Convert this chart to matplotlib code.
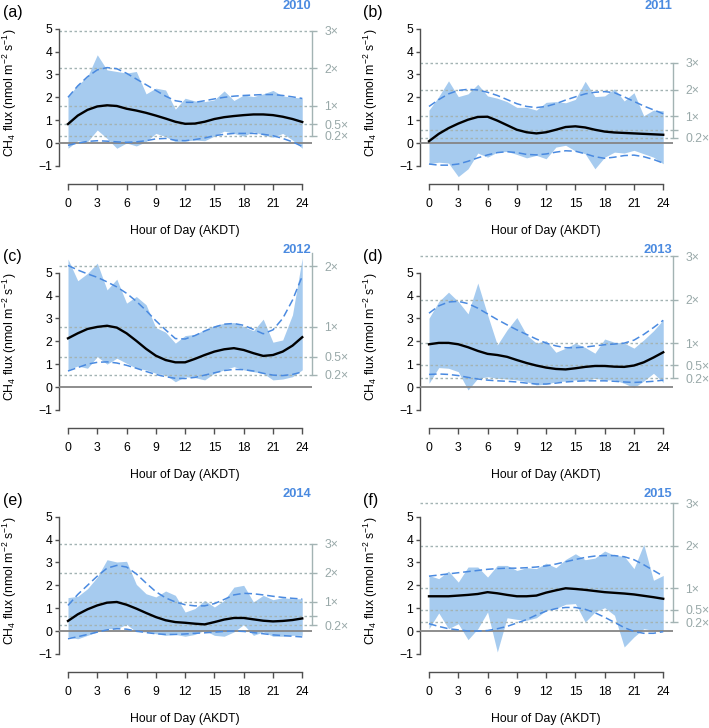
import numpy as np
import matplotlib.pyplot as plt

plt.rcParams['font.family'] = ['Liberation Sans', 'DejaVu Sans']
plt.rcParams['mathtext.fontset'] = 'custom'
plt.rcParams['mathtext.rm'] = 'Liberation Sans'
plt.rcParams['mathtext.it'] = 'Liberation Sans:italic'

hours = np.arange(25)
years = [2010, 2011, 2012, 2013, 2014, 2015]
panel_tags = ['(a)', '(b)', '(c)', '(d)', '(e)', '(f)']
ref_flux = [1.64, 1.17, 2.64, 1.91, 1.27, 1.86]
multipliers = [0.2, 0.5, 1, 2, 3]
mult_labels = ['0.2\u00d7', '0.5\u00d7', '1\u00d7', '2\u00d7', '3\u00d7']
xticks = [0, 3, 6, 9, 12, 15, 18, 21, 24]
yticks = [-1, 0, 1, 2, 3, 4, 5]

hi_2010 = [2.03, 2.54, 2.9, 3.86, 3.2, 3.13, 3.06, 3.13, 2.15, 2.4, 2.32, 1.48, 1.96, 1.84, 1.81, 1.89, 2.28, 1.86, 2.1, 2.03, 2.15, 2.3, 2.06, 2.0, 1.97]
lo_2010 = [-0.23, 0.1, 0.06, 0.57, 0.2, -0.23, 0.0, -0.13, 0.06, 0.42, 0.28, 0.06, 0.09, 0.13, 0.1, 0.3, 0.52, 0.42, 0.3, 0.5, 0.35, 0.25, 0.42, 0.13, -0.23]
mean_2010 = [0.83, 1.2, 1.45, 1.6, 1.65, 1.62, 1.5, 1.42, 1.32, 1.2, 1.07, 0.93, 0.84, 0.85, 0.93, 1.05, 1.13, 1.18, 1.22, 1.25, 1.25, 1.22, 1.15, 1.05, 0.92]
fit_hi_2010 = [2.0, 2.5, 2.9, 3.2, 3.3, 3.25, 3.05, 2.8, 2.55, 2.3, 2.05, 1.85, 1.78, 1.78, 1.85, 1.93, 2.0, 2.05, 2.08, 2.1, 2.12, 2.12, 2.08, 2.02, 1.95]
fit_lo_2010 = [-0.1, 0.0, 0.07, 0.1, 0.08, 0.05, 0.03, 0.05, 0.1, 0.18, 0.2, 0.12, 0.1, 0.15, 0.22, 0.32, 0.38, 0.42, 0.42, 0.42, 0.38, 0.32, 0.2, 0.05, -0.15]

hi_2011 = [1.44, 2.03, 2.72, 2.03, 2.15, 2.57, 2.06, 1.96, 1.81, 1.56, 1.56, 1.44, 1.78, 1.81, 1.76, 1.91, 2.7, 2.03, 2.06, 2.37, 1.84, 2.2, 1.19, 1.44, 1.41]
lo_2011 = [-0.91, -0.84, -0.88, -1.47, -1.13, -0.44, -0.62, -0.4, -0.37, -0.5, -0.65, -0.54, -0.69, -0.18, -0.1, -0.35, -0.47, -1.13, -0.62, -0.4, -0.44, -0.32, -0.47, -0.62, -0.91]
mean_2011 = [0.08, 0.4, 0.65, 0.85, 1.02, 1.14, 1.15, 0.98, 0.78, 0.58, 0.47, 0.42, 0.47, 0.58, 0.7, 0.73, 0.68, 0.58, 0.5, 0.46, 0.44, 0.42, 0.4, 0.38, 0.36]
fit_hi_2011 = [1.6, 1.9, 2.15, 2.3, 2.35, 2.32, 2.22, 2.08, 1.9, 1.72, 1.6, 1.55, 1.6, 1.72, 1.88, 2.02, 2.15, 2.22, 2.25, 2.2, 2.02, 1.82, 1.62, 1.45, 1.28]
fit_lo_2011 = [-0.92, -0.97, -0.97, -0.92, -0.8, -0.65, -0.52, -0.42, -0.38, -0.42, -0.5, -0.52, -0.48, -0.4, -0.34, -0.36, -0.47, -0.6, -0.67, -0.62, -0.55, -0.53, -0.6, -0.72, -0.88]

hi_2012 = [5.6, 4.65, 4.97, 5.42, 4.25, 4.72, 3.67, 3.96, 3.6, 2.6, 2.4, 1.92, 2.25, 2.3, 2.5, 2.69, 2.79, 2.82, 2.65, 2.46, 2.97, 1.96, 2.06, 3.16, 5.65]
lo_2012 = [0.75, 0.92, 0.82, 1.33, 1.0, 1.26, 1.04, 0.82, 0.75, 0.6, 0.53, 0.23, 0.45, 0.41, 0.31, 0.6, 0.75, 0.89, 0.75, 0.67, 0.6, 0.31, 0.35, 0.45, 0.75]
mean_2012 = [2.13, 2.35, 2.54, 2.63, 2.68, 2.6, 2.35, 2.02, 1.67, 1.37, 1.18, 1.08, 1.08, 1.23, 1.4, 1.55, 1.65, 1.7, 1.62, 1.48, 1.36, 1.4, 1.55, 1.81, 2.18]
fit_hi_2012 = [5.32, 5.12, 4.95, 4.8, 4.6, 4.38, 4.1, 3.75, 3.35, 2.9, 2.5, 2.12, 2.1, 2.25, 2.45, 2.62, 2.75, 2.78, 2.7, 2.52, 2.33, 2.5, 3.0, 3.8, 4.85]
fit_lo_2012 = [0.7, 0.85, 1.0, 1.08, 1.1, 1.05, 0.95, 0.82, 0.68, 0.55, 0.45, 0.38, 0.37, 0.42, 0.52, 0.62, 0.72, 0.77, 0.76, 0.7, 0.6, 0.52, 0.5, 0.55, 0.66]

hi_2013 = [3.01, 3.74, 4.15, 3.74, 3.2, 4.55, 3.16, 1.84, 2.5, 3.04, 2.28, 1.92, 2.03, 1.52, 1.7, 1.92, 1.73, 1.48, 2.1, 1.96, 1.92, 1.7, 2.06, 2.46, 2.94]
lo_2013 = [0.16, 0.85, 0.82, 0.67, -0.13, 0.38, 0.45, 0.38, 0.35, 0.31, 0.23, 0.09, 0.12, 0.23, 0.26, 0.31, 0.26, 0.38, 0.31, 0.31, 0.16, -0.03, 0.26, 0.6, 0.2]
mean_2013 = [1.87, 1.93, 1.93, 1.87, 1.74, 1.58, 1.45, 1.4, 1.32, 1.18, 1.05, 0.94, 0.85, 0.79, 0.77, 0.82, 0.88, 0.92, 0.92, 0.89, 0.88, 0.94, 1.08, 1.29, 1.52]
fit_hi_2013 = [3.23, 3.55, 3.72, 3.75, 3.65, 3.45, 3.2, 2.95, 2.72, 2.5, 2.3, 2.1, 1.92, 1.8, 1.72, 1.72, 1.75, 1.8, 1.85, 1.88, 1.92, 2.05, 2.3, 2.6, 2.92]
fit_lo_2013 = [0.55, 0.57, 0.55, 0.5, 0.42, 0.35, 0.3, 0.27, 0.25, 0.22, 0.17, 0.13, 0.13, 0.17, 0.22, 0.25, 0.27, 0.27, 0.27, 0.25, 0.22, 0.2, 0.22, 0.25, 0.3]

hi_2014 = [1.46, 1.52, 1.85, 2.36, 3.12, 3.02, 3.05, 2.04, 1.63, 1.49, 1.75, 1.56, 0.83, 0.98, 1.34, 1.05, 1.34, 1.92, 2.0, 1.27, 1.56, 1.37, 1.46, 1.41, 1.41]
lo_2014 = [-0.26, -0.34, -0.19, -0.04, 0.1, 0.1, 0.29, -0.04, -0.04, -0.12, -0.19, -0.15, -0.23, -0.15, 0.03, -0.19, -0.23, -0.04, 0.28, -0.19, -0.04, -0.23, -0.23, -0.19, -0.19]
mean_2014 = [0.44, 0.73, 0.95, 1.12, 1.24, 1.27, 1.15, 0.98, 0.79, 0.61, 0.47, 0.39, 0.36, 0.32, 0.29, 0.39, 0.5, 0.57, 0.57, 0.51, 0.45, 0.42, 0.44, 0.48, 0.55]
fit_hi_2014 = [1.12, 1.6, 2.0, 2.4, 2.75, 2.87, 2.8, 2.5, 2.1, 1.72, 1.45, 1.27, 1.15, 1.1, 1.1, 1.2, 1.38, 1.58, 1.65, 1.63, 1.58, 1.52, 1.47, 1.43, 1.4]
fit_lo_2014 = [-0.34, -0.25, -0.15, -0.05, 0.05, 0.1, 0.08, 0.0, -0.07, -0.12, -0.15, -0.15, -0.13, -0.1, -0.08, -0.05, -0.02, 0.0, -0.02, -0.07, -0.12, -0.17, -0.2, -0.23, -0.26]

hi_2015 = [2.43, 2.29, 2.62, 2.14, 2.8, 2.8, 2.36, 2.87, 2.87, 2.65, 2.77, 2.73, 2.97, 2.77, 3.13, 3.38, 3.12, 3.19, 3.5, 3.31, 3.27, 2.73, 3.79, 2.22, 2.43]
lo_2015 = [0.1, 0.79, 0.1, 0.32, -0.38, 0.1, 0.83, -0.92, 0.58, 0.51, 0.47, 0.58, 0.9, 0.98, 1.17, 1.2, 0.39, 0.83, 1.02, 0.69, -0.7, -0.26, 0.1, 0.03, 0.0]
mean_2015 = [1.52, 1.52, 1.52, 1.55, 1.58, 1.62, 1.7, 1.65, 1.58, 1.52, 1.52, 1.55, 1.68, 1.78, 1.87, 1.84, 1.8, 1.75, 1.7, 1.67, 1.64, 1.6, 1.54, 1.48, 1.41]
fit_hi_2015 = [2.4, 2.45, 2.5, 2.55, 2.6, 2.65, 2.7, 2.73, 2.75, 2.75, 2.77, 2.8, 2.85, 2.93, 3.03, 3.13, 3.22, 3.28, 3.3, 3.3, 3.25, 3.12, 2.9, 2.65, 2.4]
fit_lo_2015 = [0.32, 0.2, 0.1, 0.05, 0.0, 0.0, 0.02, 0.1, 0.2, 0.35, 0.5, 0.7, 0.87, 0.98, 1.03, 1.03, 0.95, 0.8, 0.6, 0.38, 0.15, -0.02, -0.1, -0.1, -0.03]

series = {
    2010: (hi_2010, lo_2010, mean_2010, fit_hi_2010, fit_lo_2010),
    2011: (hi_2011, lo_2011, mean_2011, fit_hi_2011, fit_lo_2011),
    2012: (hi_2012, lo_2012, mean_2012, fit_hi_2012, fit_lo_2012),
    2013: (hi_2013, lo_2013, mean_2013, fit_hi_2013, fit_lo_2013),
    2014: (hi_2014, lo_2014, mean_2014, fit_hi_2014, fit_lo_2014),
    2015: (hi_2015, lo_2015, mean_2015, fit_hi_2015, fit_lo_2015),
}

W, H = 709, 728
fig = plt.figure(figsize=(W / 100, H / 100), dpi=100)

FILL = '#a6cbef'
BLUE = '#4a8ae0'
REF = '#a3b3b3'
AXC = '#505050'
FS = 8.8

px_hr = 9.76
px_val = 22.85
x_origin = [68, 429]
y_origin = [143, 387, 631]
col_left = [3, 363]
ytop = 5.85
ybot = -41 / px_val


def fx(p):
    return p / W


def fy(p):
    return 1 - p / H


for i, yr in enumerate(years):
    col, row = i % 2, i // 2
    x0, y0 = x_origin[col], y_origin[row]
    left = x0 - 0.96 * px_hr
    right = x0 + 24.96 * px_hr
    bottom = y0 - ybot * px_val
    top = y0 - ytop * px_val
    ax = fig.add_axes([fx(left), fy(bottom), (right - left) / W, (bottom - top) / H])
    ax.set_xlim(-0.96, 24.96)
    ax.set_ylim(ybot, ytop)

    hi, lo, mean, fhi, flo = series[yr]
    M = ref_flux[i]

    ax.fill_between(hours, lo, hi, color=FILL, lw=0, zorder=1)
    for m in multipliers:
        ax.axhline(M * m, color=REF, lw=1.0, ls=(0, (1.8, 1.8)), zorder=2)
    ax.axhline(0, color='#858585', lw=1.3, zorder=3)
    ax.plot(hours, fhi, color=BLUE, lw=1.1, ls=(0, (5, 2.5)), zorder=4)
    ax.plot(hours, flo, color=BLUE, lw=1.1, ls=(0, (5, 2.5)), zorder=4)
    ax.plot(hours, mean, color='black', lw=1.7, zorder=5)

    for s in ['top', 'right']:
        ax.spines[s].set_visible(False)
    ax.spines['left'].set_bounds(-1, 5)
    ax.spines['bottom'].set_bounds(0, 24)
    for s in ['left', 'bottom']:
        ax.spines[s].set_color(AXC)
        ax.spines[s].set_linewidth(1.0)
    ax.set_xticks(xticks)
    ax.set_yticks(yticks)
    ax.set_yticklabels(['\u22121' if v < 0 else str(v) for v in yticks])
    ax.tick_params(axis='x', length=4.3, width=1.0, color=AXC, pad=6.0, labelsize=FS)
    ax.tick_params(axis='y', length=3.2, width=1.0, color=AXC, pad=1.5, labelsize=FS)

    # right-hand multiplier axis
    rax = ax.twinx()
    rax.set_ylim(ybot, ytop)
    for s in ['top', 'left', 'bottom']:
        rax.spines[s].set_visible(False)
    rtop = min(M * 3, ytop)
    rax.spines['right'].set_bounds(M * 0.2, rtop)
    rax.spines['right'].set_color(REF)
    rax.spines['right'].set_linewidth(1.0)
    rt, rl = [], []
    for m, lab in zip(multipliers, mult_labels):
        v = M * m
        if v > ytop:
            continue
        rt.append(v)
        # the 0.5x label is dropped when it would crowd the 0.2x label
        if m == 0.5 and (v - M * 0.2) * px_val < 10:
            rl.append('')
        else:
            rl.append(lab)
    rax.set_yticks(rt)
    rax.set_yticklabels(rl)
    rax.tick_params(axis='y', length=3.5, width=1.0, color=REF, labelcolor='#98a8a8',
                    pad=5.5, labelsize=FS)

    fig.text(fx(x0 - 58), fy(y0 - 2.2 * px_val),
             r'CH$_4$ flux (nmol m$^{-2}$ s$^{-1}$)', rotation=90,
             ha='center', va='center', fontsize=FS)
    fig.text(fx(x0 + 12 * px_hr), fy(y0 + 88), 'Hour of Day (AKDT)',
             ha='center', va='center', fontsize=FS)
    fig.text(fx(right), fy(y0 - 137), str(yr), ha='right', va='center',
             fontsize=9.3, fontweight='bold', color=BLUE)
    fig.text(fx(col_left[col]), fy(y0 - 131), panel_tags[i], ha='left',
             va='center', fontsize=11.5)

fig.savefig('out.png', dpi=100)
